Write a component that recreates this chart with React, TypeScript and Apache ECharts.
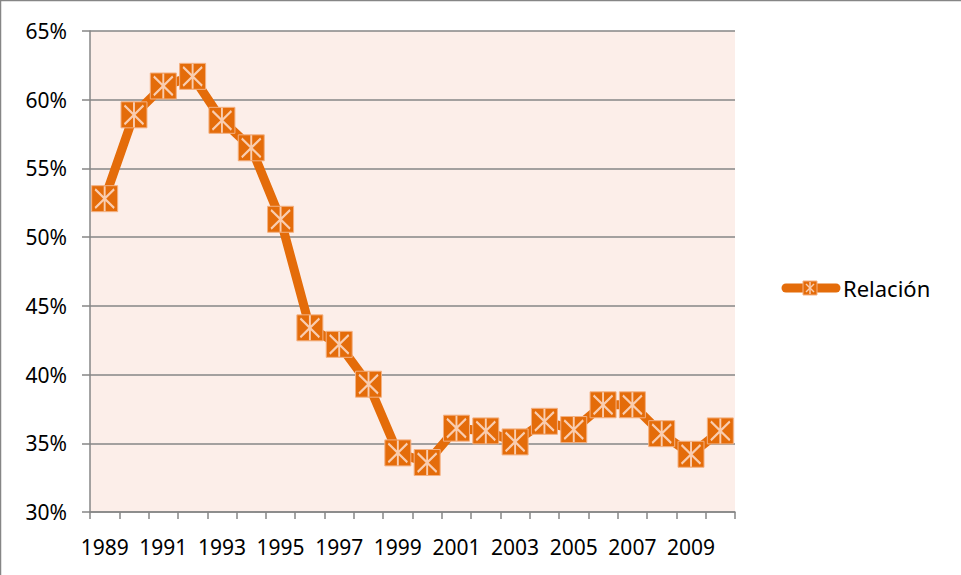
import React, { useEffect, useRef } from "react";
import * as echarts from "echarts";

const years = ["1989","1990","1991","1992","1993","1994","1995","1996","1997","1998","1999","2000","2001","2002","2003","2004","2005","2006","2007","2008","2009","2010"];
const relacion = [52.8, 58.9, 61.0, 61.7, 58.5, 56.5, 51.3, 43.4, 42.2, 39.3, 34.3, 33.6, 36.1, 35.9, 35.1, 36.6, 36.0, 37.8, 37.8, 35.7, 34.2, 35.9];
const seriesName = "Relación";

const ORANGE = "#E46C0A";
const LIGHT = "#F9CDB0";
const GRID = "#868686";
const FONT = "Noto Sans";

export default function App() {
  const ref = useRef<HTMLDivElement>(null);
  useEffect(() => {
    if (!ref.current) return;
    const chart = echarts.init(ref.current, null, { renderer: "svg" });
    const star = "path://M4 4L22 22M22 4L4 22M13 1L13 25";
    chart.setOption({
      animation: false,
      backgroundColor: "#fff",
      grid: { left: 90, top: 31, right: 226, bottom: 63, show: true, backgroundColor: "#FCEEE9", borderWidth: 0 },
      xAxis: {
        type: "category",
        data: years,
        boundaryGap: true,
        axisLine: { show: true, lineStyle: { color: GRID, width: 1.5 } },
        axisTick: { show: true, interval: 0, length: 7, lineStyle: { color: GRID, width: 1.5 } },
        axisLabel: { interval: 1, margin: 24, color: "#000", fontSize: 21, fontFamily: FONT },
        splitLine: { show: false },
      },
      yAxis: {
        type: "value",
        min: 30,
        max: 65,
        interval: 5,
        axisLine: { show: true, lineStyle: { color: GRID, width: 1.5 } },
        axisTick: { show: true, length: 8, lineStyle: { color: GRID, width: 1.5 } },
        axisLabel: { formatter: "{value}%", margin: 23, color: "#000", fontSize: 21, fontFamily: FONT },
        splitLine: { show: true, lineStyle: { color: GRID, width: 1.5 } },
      },
      series: [
        {
          name: seriesName,
          type: "line",
          data: relacion,
          lineStyle: { color: ORANGE, width: 9, cap: "round", join: "round" },
          symbol: "rect",
          symbolSize: 26,
          showSymbol: true,
          showAllSymbol: true,
          itemStyle: { color: ORANGE, borderColor: "#F4B183", borderWidth: 1 },
          z: 2,
        },
        {
          name: seriesName + "_m",
          type: "line",
          data: relacion,
          lineStyle: { width: 0, opacity: 0 },
          symbol: star,
          symbolSize: [19, 25],
          showSymbol: true,
          showAllSymbol: true,
          itemStyle: { color: "transparent", borderColor: LIGHT, borderWidth: 2.2 },
          z: 3,
          silent: true,
        },
      ],
      graphic: [
        { type: "rect", shape: { x: 0.5, y: 0.5, width: 1000, height: 1000 }, style: { fill: "none", stroke: GRID, lineWidth: 1.5 }, silent: true },
        { type: "line", shape: { x1: 786, y1: 288, x2: 836, y2: 288 }, style: { stroke: ORANGE, lineWidth: 9, lineCap: "round" } },
        { type: "rect", shape: { x: 803, y: 281, width: 14, height: 14 }, style: { fill: ORANGE, stroke: "#F4B183", lineWidth: 1 } },
        { type: "line", shape: { x1: 806, y1: 284, x2: 814, y2: 292 }, style: { stroke: LIGHT, lineWidth: 1.5 } },
        { type: "line", shape: { x1: 814, y1: 284, x2: 806, y2: 292 }, style: { stroke: LIGHT, lineWidth: 1.5 } },
        { type: "line", shape: { x1: 810, y1: 282, x2: 810, y2: 294 }, style: { stroke: LIGHT, lineWidth: 1.5 } },
        { type: "text", x: 843, y: 288, style: { text: seriesName, fill: "#000", fontSize: 22, fontFamily: FONT, verticalAlign: "middle", align: "left" } },
      ],
    });
    return () => chart.dispose();
  }, []);
  return <div ref={ref} style={{ position: "fixed", left: 0, top: 0, width: 961, height: 575 }} />;
}
